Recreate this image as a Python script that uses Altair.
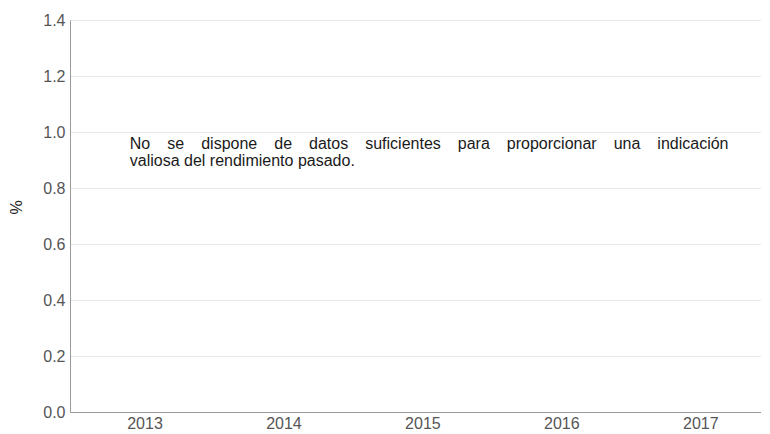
import altair as alt
import pandas as pd

# ---- data ----
years = [2013, 2014, 2015, 2016, 2017]
returns = [None, None, None, None, None]  # no data available
y_ticks = [0.0, 0.2, 0.4, 0.6, 0.8, 1.0, 1.2, 1.4]
message_line1 = "No se dispone de datos suficientes para proporcionar una indicación"
message_line2 = "valiosa del rendimiento pasado."

FONT = "Liberation Sans, Arial, sans-serif"
W, H = 691, 392

# Arial advance widths (per 1000 em) used to justify the first line
ARIAL = {"N": 722, "o": 556, "s": 500, "e": 556, "d": 556, "i": 222, "p": 556,
         "n": 556, "a": 556, "t": 278, "u": 556, "f": 278, "c": 500, "r": 333,
         "l": 222, "ó": 556, "v": 500, "m": 833, "h": 556}


def text_width(word, size=16):
    return sum(ARIAL.get(ch, 556) for ch in word) * size / 1000.0


left, right = 59.8, 658.5  # justified block edges, relative to plot area
words = message_line1.split(" ")
widths = [text_width(w) for w in words]
gap = (right - left - sum(widths)) / (len(words) - 1)
xs = []
cur = left
for w in widths:
    xs.append(cur)
    cur += w + gap

text_df = pd.DataFrame({
    "t": words + [message_line2],
    "px": xs + [left],
    "py": [128.8] * len(words) + [146.2],
})

df = pd.DataFrame({"year": years, "ret": returns})

base = alt.Chart(df).mark_bar(color="#1f4e79", size=60).encode(
    x=alt.X("year:Q",
            scale=alt.Scale(domain=[2012.5, 2012.5 + W / 141.0], nice=False, zero=False),
            axis=alt.Axis(values=years, format="d", title=None, grid=False, ticks=False,
                          labelPadding=3, labelFontSize=16, labelColor="#555555",
                          labelFont=FONT, domainColor="#9a9a9a", labelFlush=False)),
    y=alt.Y("ret:Q",
            scale=alt.Scale(domain=[0, 1.4], nice=False),
            axis=alt.Axis(values=y_ticks, format=".1f", title="%", grid=True,
                          gridColor="#e8e8e8", ticks=False, labelPadding=5,
                          labelFontSize=16, labelColor="#555555", labelFont=FONT,
                          domainColor="#9a9a9a", titleFont=FONT, titleFontSize=16,
                          titleFontWeight="normal", titleColor="#222222",
                          titleAngle=270, titleX=-54, titleY=187,
                          titleAlign="center", titleBaseline="middle")),
)

msg = alt.Chart(text_df).mark_text(
    align="left", baseline="alphabetic", font=FONT, fontSize=16, color="#1a1a1a"
).encode(
    x=alt.X("px:Q", scale=None),
    y=alt.Y("py:Q", scale=None),
    text="t:N",
)

chart = alt.layer(base, msg).properties(
    width=W, height=H,
    padding={"left": 0, "top": 4, "right": 0, "bottom": 0},
).configure_view(stroke=None).configure(background="white")

chart.save("out.html", embed_options={"renderer": "svg", "actions": False})
